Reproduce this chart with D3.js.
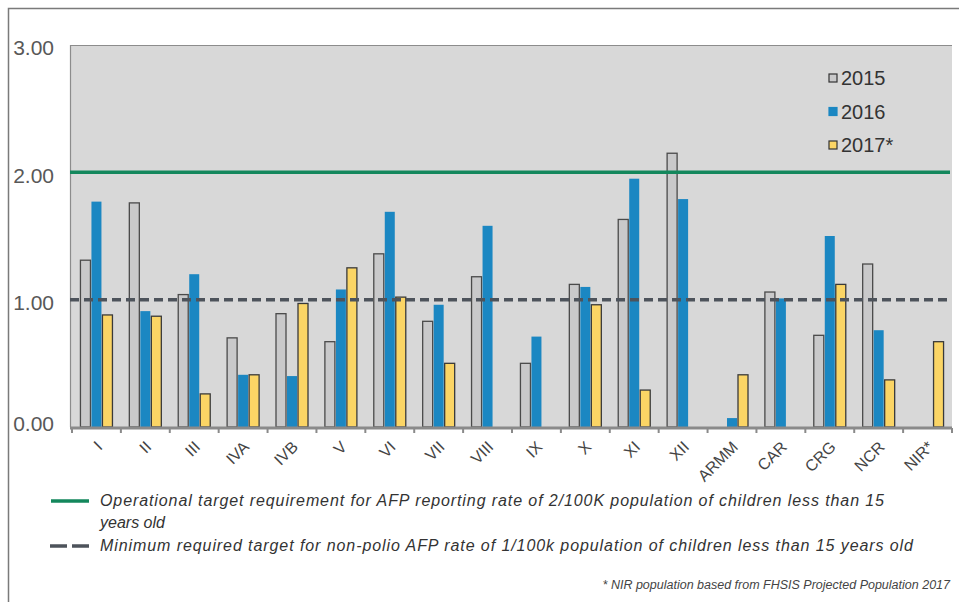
<!DOCTYPE html>
<html>
<head>
<meta charset="utf-8">
<script src="https://cdn.jsdelivr.net/npm/d3@7"></script>
<style>
  body { margin: 0; background: #fff; }
  svg { display: block; font-family: "Liberation Sans", Arial, sans-serif; }
</style>
</head>
<body>
<svg id="chart" width="959" height="602"></svg>
<script>
var regions = ["I", "II", "III", "IVA", "IVB", "V", "VI", "VII", "VIII", "IX",
  "X", "XI", "XII", "ARMM", "CAR", "CRG", "NCR", "NIR*"];
var years = ["2015", "2016", "2017*"];
// null = no bar for that year
var rate2015 = [1.31, 1.76, 1.04, 0.70, 0.89, 0.67, 1.36, 0.83, 1.18, 0.50,
  1.12, 1.63, 2.15, null, 1.06, 0.72, 1.28, null];
var rate2016 = [1.77, 0.91, 1.20, 0.41, 0.40, 1.08, 1.69, 0.96, 1.58, 0.71,
  1.10, 1.95, 1.79, 0.07, 1.01, 1.50, 0.76, null];
var rate2017 = [0.88, 0.87, 0.26, 0.41, 0.97, 1.25, 1.02, 0.50, null, null,
  0.96, 0.29, null, 0.41, null, 1.12, 0.37, 0.67];
var yTicks = [0, 1, 2, 3];
var operationalTarget = 2;
var minimumTarget = 1;

var fills = ["#c9c9ca", "#1b87c2", "#fbd565"];
var strokes = ["#4a4a4a", "none", "#3a3a3a"];

var svg = d3.select("#chart");

// outer frame
svg.append("path")
  .attr("d", "M8.5,602 V8.5 H959")
  .attr("fill", "none")
  .attr("stroke", "#7a7a7a")
  .attr("stroke-width", 1.5);

var x = d3.scaleBand()
  .domain(regions)
  .range([72, 952])
  .paddingInner(0.325)
  .paddingOuter(0.1625);

var xSub = d3.scaleBand()
  .domain(years)
  .range([0, x.bandwidth()]);

var y = d3.scaleLinear()
  .domain([0, 3])
  .range([427, 45]);

// plot background
svg.append("rect")
  .attr("x", 70)
  .attr("y", y(3))
  .attr("width", 952 - 70)
  .attr("height", y(0) - y(3))
  .attr("fill", "#d8d8d8");
svg.append("path")
  .attr("d", "M70.5," + y(0) + " V" + (y(3) + 0.5) + " H952")
  .attr("fill", "none")
  .attr("stroke", "#8c8c8c")
  .attr("stroke-width", 1.2);

// y labels
svg.append("g")
  .selectAll("text")
  .data(yTicks)
  .enter()
  .append("text")
  .attr("x", 54)
  .attr("y", d => y(d) + (d === 0 ? -3 : 3))
  .attr("dy", "0.35em")
  .attr("text-anchor", "end")
  .attr("font-size", 21)
  .attr("fill", "#585858")
  .text(d => d3.format(".2f")(d));

// bars
var rows = [];
regions.forEach((r, i) => {
  [rate2015[i], rate2016[i], rate2017[i]].forEach((v, j) => {
    if (v != null) rows.push({ region: r, year: years[j], k: j, value: v });
  });
});

svg.append("g")
  .selectAll("rect")
  .data(rows)
  .enter()
  .append("rect")
  .attr("x", d => x(d.region) + xSub(d.year) + 0.5)
  .attr("y", d => y(d.value))
  .attr("width", xSub.bandwidth() - 1)
  .attr("height", d => y(0) - y(d.value))
  .attr("fill", d => fills[d.k])
  .attr("stroke", d => strokes[d.k])
  .attr("stroke-width", 1.3);

// target lines
svg.append("line")
  .attr("x1", 70).attr("x2", 950)
  .attr("y1", y(operationalTarget)).attr("y2", y(operationalTarget))
  .attr("stroke", "#13875c")
  .attr("stroke-width", 3.5);

svg.append("line")
  .attr("x1", 70).attr("x2", 952)
  .attr("y1", y(minimumTarget)).attr("y2", y(minimumTarget))
  .attr("stroke", "#4d535b")
  .attr("stroke-width", 3.5)
  .attr("stroke-dasharray", "9,5");

// x axis line + ticks
var xAxis = svg.append("g");
xAxis.append("line")
  .attr("x1", 70).attr("x2", 952)
  .attr("y1", y(0) + 1).attr("y2", y(0) + 1)
  .attr("stroke", "#8a8a8a")
  .attr("stroke-width", 3);
xAxis.selectAll(".tick")
  .data(d3.range(regions.length + 1))
  .enter()
  .append("line")
  .attr("x1", i => 72 + i * x.step())
  .attr("x2", i => 72 + i * x.step())
  .attr("y1", y(0) + 1)
  .attr("y2", y(0) + 6)
  .attr("stroke", "#8a8a8a")
  .attr("stroke-width", 2);

xAxis.selectAll(".lbl")
  .data(regions)
  .enter()
  .append("text")
  .attr("transform", d => "translate(" + (x(d) + x.bandwidth() / 2 + 3) + "," + (y(0) + 17) + ") rotate(-45)")
  .attr("dy", "0.35em")
  .attr("text-anchor", "end")
  .attr("font-size", 16)
  .attr("fill", "#444")
  .text(d => d);

// legend (years)
var legend = svg.append("g")
  .attr("transform", "translate(829,78)");
legend.selectAll("rect")
  .data(years)
  .enter()
  .append("rect")
  .attr("x", 0)
  .attr("y", (d, i) => i * 33.5 - 4)
  .attr("width", 8)
  .attr("height", 8)
  .attr("fill", (d, i) => fills[i])
  .attr("stroke", (d, i) => i === 1 ? "#1b87c2" : "#333")
  .attr("stroke-width", 1.2);
legend.selectAll("text")
  .data(years)
  .enter()
  .append("text")
  .attr("x", 12)
  .attr("y", (d, i) => i * 33.5)
  .attr("dy", "0.35em")
  .attr("font-size", 20)
  .attr("fill", "#333")
  .text(d => d);

// bottom legend for target lines
var notes = svg.append("g")
  .attr("font-style", "italic")
  .attr("fill", "#333");

notes.append("line")
  .attr("x1", 51).attr("x2", 89)
  .attr("y1", 501).attr("y2", 501)
  .attr("stroke", "#13875c")
  .attr("stroke-width", 3.5);
notes.append("line")
  .attr("x1", 50).attr("x2", 89)
  .attr("y1", 546).attr("y2", 546)
  .attr("stroke", "#4d535b")
  .attr("stroke-width", 3.5)
  .attr("stroke-dasharray", "17,5");

notes.append("text")
  .attr("x", 100).attr("y", 506)
  .attr("font-size", 16)
  .attr("textLength", 784)
  .attr("lengthAdjust", "spacing")
  .text("Operational target requirement for AFP reporting rate of 2/100K  population of children less than 15");
notes.append("text")
  .attr("x", 100).attr("y", 528)
  .attr("font-size", 16)
  .text("years old");
notes.append("text")
  .attr("x", 100).attr("y", 551)
  .attr("font-size", 16)
  .attr("textLength", 813)
  .attr("lengthAdjust", "spacing")
  .text("Minimum required target for non-polio AFP rate of  1/100k population of children less than 15 years old");
notes.append("text")
  .attr("x", 950).attr("y", 589)
  .attr("font-size", 12.5)
  .attr("text-anchor", "end")
  .attr("fill", "#444")
  .text("* NIR population  based from FHSIS Projected Population  2017");
</script>
</body>
</html>
